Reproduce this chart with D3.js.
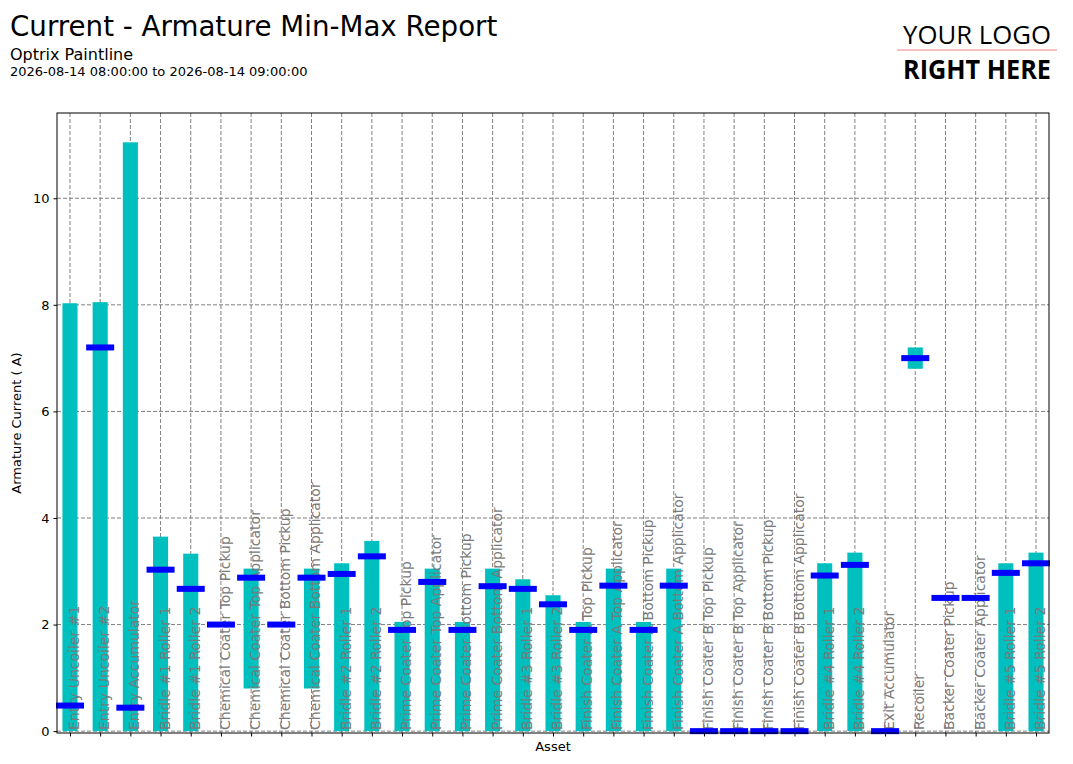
<!DOCTYPE html>
<html><head><meta charset="utf-8">
<script src="https://d3js.org/d3.v7.min.js"></script>
<style>
body{margin:0;background:#fff;font-family:"DejaVu Sans",sans-serif;}
.grid line{stroke:#808080;stroke-dasharray:4,2;stroke-width:1;}
</style></head><body><div id="chart"></div>
<script>
var data = [
 {name:"Entry Uncoiler #1",min:0,max:8.03,avg:0.48},
 {name:"Entry Uncoiler #2",min:0,max:8.05,avg:7.2},
 {name:"Entry Accumulator",min:0,max:11.05,avg:0.44},
 {name:"Bridle #1 Roller 1",min:0,max:3.65,avg:3.03},
 {name:"Bridle #1 Roller 2",min:0,max:3.33,avg:2.67},
 {name:"Chemical Coater Top Pickup",min:null,max:null,avg:2.0},
 {name:"Chemical Coater Top Applicator",min:0.8,max:3.05,avg:2.88},
 {name:"Chemical Coater Bottom Pickup",min:null,max:null,avg:2.0},
 {name:"Chemical Coater Bottom Applicator",min:0.8,max:3.05,avg:2.88},
 {name:"Bridle #2 Roller 1",min:0,max:3.15,avg:2.95},
 {name:"Bridle #2 Roller 2",min:0,max:3.57,avg:3.28},
 {name:"Prime Coater Top Pickup",min:0,max:2.05,avg:1.9},
 {name:"Prime Coater Top Applicator",min:0,max:3.05,avg:2.8},
 {name:"Prime Coater Bottom Pickup",min:0,max:2.05,avg:1.9},
 {name:"Prime Coater Bottom Applicator",min:0,max:3.05,avg:2.72},
 {name:"Bridle #3 Roller 1",min:0,max:2.85,avg:2.67},
 {name:"Bridle #3 Roller 2",min:0,max:2.55,avg:2.38},
 {name:"Finish Coater A Top Pickup",min:0,max:2.05,avg:1.9},
 {name:"Finish Coater A Top Applicator",min:0,max:3.05,avg:2.73},
 {name:"Finish Coater A Bottom Pickup",min:0,max:2.05,avg:1.9},
 {name:"Finish Coater A Bottom Applicator",min:0,max:3.05,avg:2.73},
 {name:"Finish Coater B Top Pickup",min:null,max:null,avg:0},
 {name:"Finish Coater B Top Applicator",min:null,max:null,avg:0},
 {name:"Finish Coater B Bottom Pickup",min:null,max:null,avg:0},
 {name:"Finish Coater B Bottom Applicator",min:null,max:null,avg:0},
 {name:"Bridle #4 Roller 1",min:0,max:3.15,avg:2.92},
 {name:"Bridle #4 Roller 2",min:0,max:3.35,avg:3.12},
 {name:"Exit Accumulator",min:null,max:null,avg:0},
 {name:"Recoiler",min:6.8,max:7.2,avg:7.0},
 {name:"Backer Coater Pickup",min:null,max:null,avg:2.5},
 {name:"Backer Coater Applicator",min:null,max:null,avg:2.5},
 {name:"Bridle #5 Roller 1",min:0,max:3.15,avg:2.97},
 {name:"Bridle #5 Roller 2",min:0,max:3.35,avg:3.15}
];

var svg = d3.select("#chart").append("svg").attr("width",1073).attr("height",764);

// header
svg.append("text").attr("x",10).attr("y",36).attr("font-size",27.7).text("Current - Armature Min-Max Report");
svg.append("text").attr("x",10).attr("y",60).attr("font-size",16).text("Optrix Paintline");
svg.append("text").attr("x",10).attr("y",76).attr("font-size",13).text("2026-08-14 08:00:00 to 2026-08-14 09:00:00");
svg.append("text").attr("x",903).attr("y",44).attr("font-size",26).attr("font-family","Open Sans")
  .attr("textLength",148).attr("lengthAdjust","spacingAndGlyphs").text("YOUR LOGO");
svg.append("line").attr("x1",897).attr("x2",1057).attr("y1",50).attr("y2",50).attr("stroke","#f08080");
svg.append("text").attr("x",903).attr("y",79).attr("font-size",26).attr("font-weight","bold").attr("font-family","Open Sans")
  .attr("textLength",148).attr("lengthAdjust","spacingAndGlyphs").text("RIGHT HERE");

var pLeft=57, pRight=1049, pTop=113, pBottom=733;
var x = d3.scaleLinear().domain([-0.43, data.length-1+0.43]).range([pLeft,pRight]);
var y = d3.scaleLinear().domain([-0.035, 11.6]).range([pBottom,pTop]);

var g = svg.append("g");
// grid
var grid = g.append("g").attr("class","grid");
grid.selectAll(".vg").data(data).enter().append("line")
  .attr("x1",(d,i)=>x(i)).attr("x2",(d,i)=>x(i)).attr("y1",pTop).attr("y2",pBottom);
grid.selectAll(".hg").data(y.ticks(6)).enter().append("line")
  .attr("x1",pLeft).attr("x2",pRight).attr("y1",d=>y(d)).attr("y2",d=>y(d));

var bw = x(0.25)-x(0);
g.selectAll(".bar").data(data.filter(d=>d.max!=null)).enter().append("rect")
  .attr("x",d=>x(data.indexOf(d))-bw).attr("width",bw*2)
  .attr("y",d=>y(d.max)).attr("height",d=>y(d.min)-y(d.max)).attr("fill","#00bfbf");

g.selectAll(".lbl").data(data).enter().append("text")
  .attr("transform",(d,i)=>`translate(${x(i)+9},${pBottom-3}) rotate(-90)`)
  .attr("font-size",14).attr("fill","#7a7a7a").text(d=>d.name);

g.selectAll(".avg").data(data).enter().append("rect")
  .attr("x",(d,i)=>x(i)-14).attr("width",28)
  .attr("y",d=>y(d.avg)-3).attr("height",6).attr("fill","#0000ff");

// axes
g.append("g").attr("transform",`translate(0,${pBottom})`)
  .call(d3.axisBottom(x).tickValues(d3.range(data.length)).tickFormat("").tickSize(3.5));
g.append("g").attr("transform",`translate(${pLeft},0)`)
  .call(d3.axisLeft(y).ticks(6).tickSize(3.5).tickPadding(4))
  .selectAll("text").attr("font-size",13).attr("font-family","DejaVu Sans");
g.selectAll(".domain").remove();
g.append("rect").attr("x",pLeft).attr("y",pTop).attr("width",pRight-pLeft).attr("height",pBottom-pTop)
  .attr("fill","none").attr("stroke","#000");

svg.append("text").attr("x",(pLeft+pRight)/2).attr("y",751).attr("text-anchor","middle").attr("font-size",13).text("Asset");
svg.append("text").attr("transform",`translate(21,${(pTop+pBottom)/2}) rotate(-90)`).attr("text-anchor","middle")
  .attr("font-size",13).text("Armature Current ( A)");
</script></body></html>
